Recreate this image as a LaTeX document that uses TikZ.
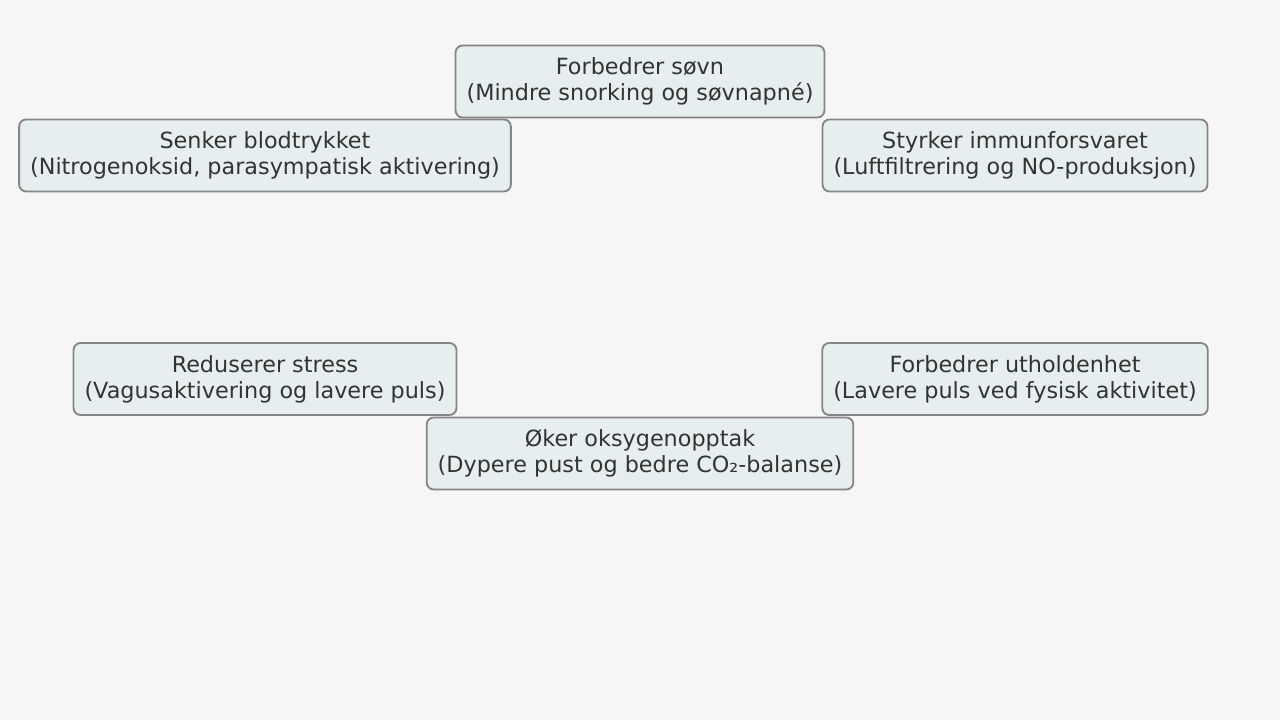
\documentclass[tikz,border=0pt]{standalone}
\usepackage{fontspec}
\setmainfont{DejaVu Sans}
\usetikzlibrary{positioning}

\definecolor{bgcol}{HTML}{F6F6F6}
\definecolor{boxfill}{HTML}{E6EEF0}
\definecolor{boxline}{HTML}{858585}
\definecolor{txtcol}{HTML}{333333}

\begin{document}
\begin{tikzpicture}[
  x=1pt, y=1pt,
  font=\fontsize{22.3}{26}\selectfont,
  benefit/.style={draw=boxline, fill=boxfill, line width=1.8pt,
    rounded corners=7pt, align=center, text=txtcol,
    minimum height=72pt, inner xsep=11pt, inner ysep=4pt}
]
% canvas
\fill[bgcol] (0,0) rectangle (1280,720);
\useasboundingbox (0,0) rectangle (1280,720);

\node[benefit] (sovn) at (640,638.5) {Forbedrer søvn\\(Mindre snorking og søvnapné)};
\node[benefit] (blod) at (265,564.5) {Senker blodtrykket\\(Nitrogenoksid, parasympatisk aktivering)};
\node[benefit] (immun) at (1015,564.5) {Styrker immunforsvaret\\(Luftfiltrering og NO-produksjon)};
\node[benefit] (stress) at (265,341) {Reduserer stress\\(Vagusaktivering og lavere puls)};
\node[benefit] (uthold) at (1015,341) {Forbedrer utholdenhet\\(Lavere puls ved fysisk aktivitet)};
\node[benefit] (oksygen) at (640,266.5) {Øker oksygenopptak\\(Dypere pust og bedre CO₂-balanse)};
\end{tikzpicture}
\end{document}
